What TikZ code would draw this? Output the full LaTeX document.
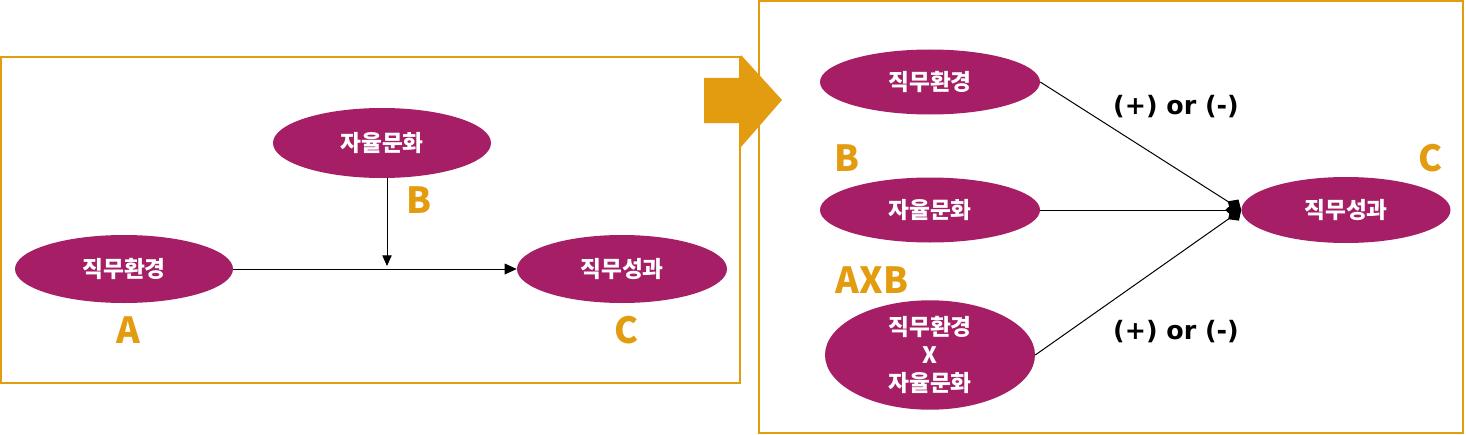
\documentclass[tikz,border=0pt]{standalone}
\usepackage{fontspec}
\setmainfont{Noto Sans CJK KR}
\newfontfamily\signfont{DejaVu Sans}
\usetikzlibrary{arrows.meta,positioning,shapes.geometric}
\definecolor{PanelGold}{HTML}{E39C10}
\definecolor{ItemPlum}{HTML}{A51E66}

\tikzset{
  item/.style={ellipse,fill=ItemPlum,text=white,font=\fontsize{17}{17}\selectfont\bfseries,inner sep=0pt},
  tag/.style={text=PanelGold,font=\fontsize{27}{30}\selectfont\bfseries},
  sign/.style={font=\signfont\fontsize{19}{22}\selectfont\bfseries},
  link/.style={draw=black,line width=0.75pt},
}

\begin{document}
\begin{tikzpicture}[x=0.75pt,y=-0.75pt]
      \useasboundingbox (0,0) rectangle (1466,435);
      % panels
      \draw[PanelGold,line width=1.5pt] (1,57) rectangle (740,383);
      \draw[PanelGold,line width=1.5pt] (759,1) rectangle (1463,433);
      \fill[PanelGold] (704,78) -- (741,78) -- (741,55) -- (782,100) -- (741,147) -- (741,123) -- (704,123) -- cycle;

      % left: moderation model
      \node[item,minimum width=218*0.75pt,minimum height=70*0.75pt] (lmod) at (382,143) {자율문화};
      \node[item,minimum width=218*0.75pt,minimum height=68*0.75pt] (lenv) at (124,269) {직무환경};
      \node[item,minimum width=210*0.75pt,minimum height=68*0.75pt] (lout) at (622,269) {직무성과};
      \node[tag] (lb) at (419,200) {B};
      \node[tag] (la) at (128,330) {A};
      \node[tag] (lc) at (626,330) {C};
      \coordinate (hit) at (387,266);
      \draw[link,-{Triangle[length=9pt,width=8pt]}] (lenv.east) -- (lout.west);
      \draw[link,-{Triangle[length=8pt,width=7pt]}] (lmod.south -| hit) -- (hit);

      % right: regression model
      \foreach \nm/\y/\lab in {renv/82/직무환경, rmod/210/자율문화}
      {
      \node[item,minimum width=220*0.75pt,minimum height=65*0.75pt] (\nm) at (930,\y) {\lab};
      }
      \node[item,align=center,font=\fontsize{17}{21}\selectfont\bfseries,minimum width=210*0.75pt,minimum height=105*0.75pt] (rint) at (930,355) {직무환경\\X\\자율문화};
      \node[item,minimum width=209*0.75pt,minimum height=66*0.75pt] (rout) at (1346,210) {직무성과};
      \node[tag] (rb) at (847,158) {B};
      \node[tag] (rab) at (872,280) {AXB};
      \node[tag] (rc) at (1430,158) {C};
      \node[sign] (s1) at (1176,107) {(+) or (-)};
      \node[sign] (s2) at (1176,332) {(+) or (-)};
      \foreach \src in {renv,rmod,rint}
      {
      \draw[link,-{Diamond[length=12pt,width=11pt]}] (\src.east) -- (rout.west);
      }
    \end{tikzpicture}
\end{document}
